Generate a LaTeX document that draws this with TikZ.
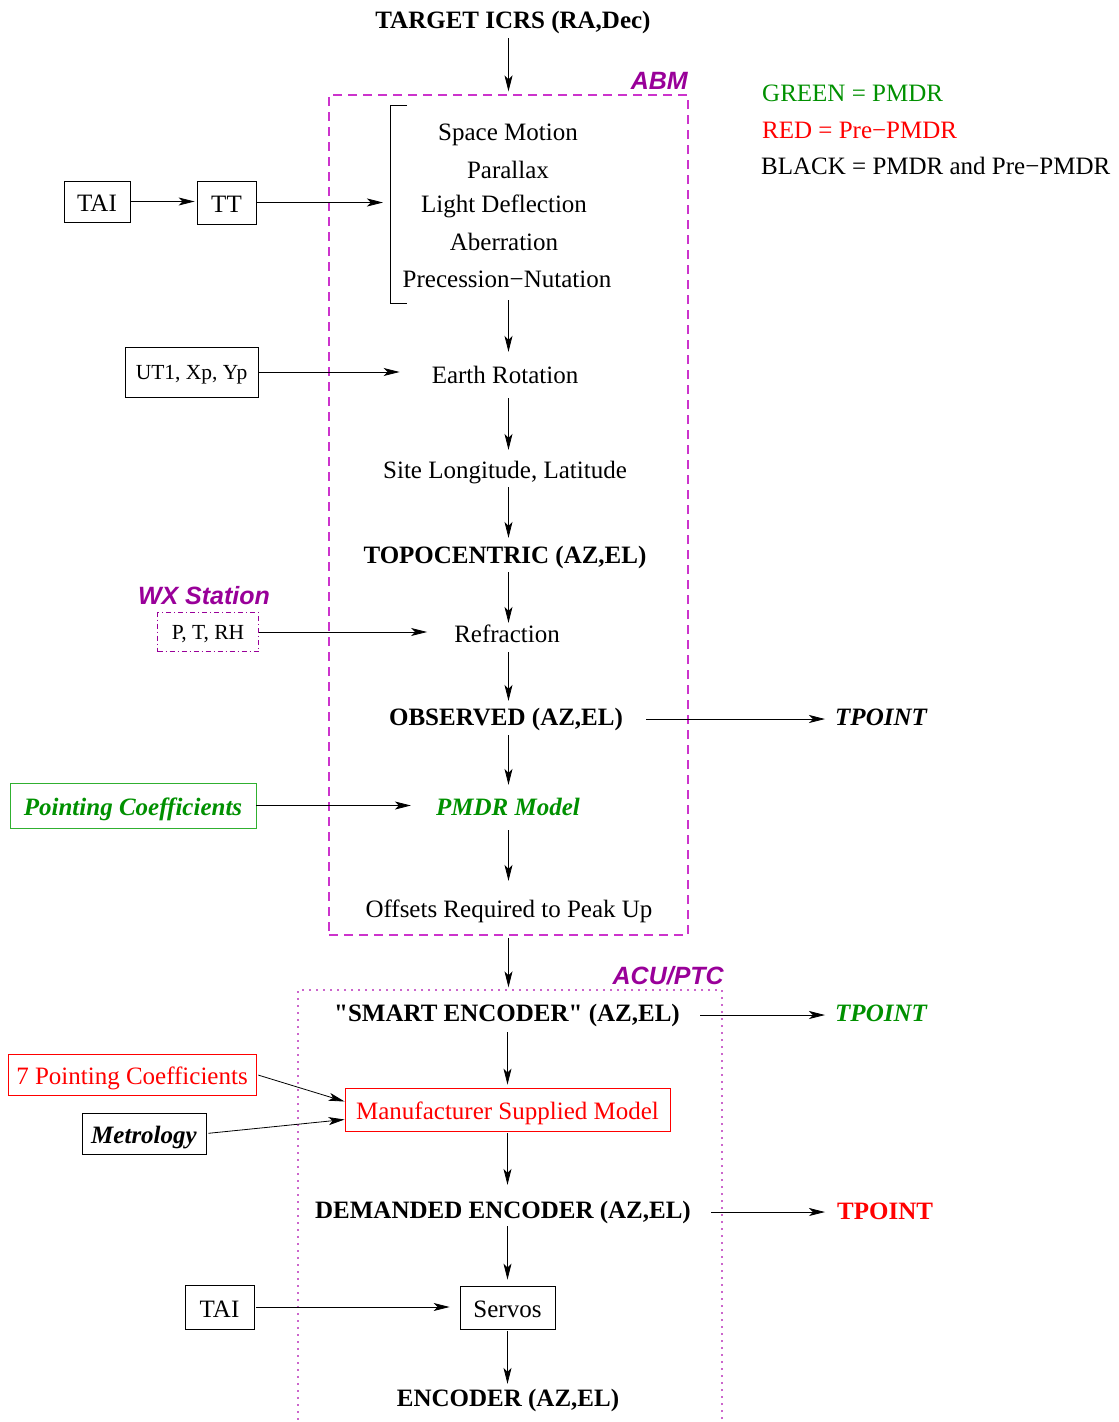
\documentclass[tikz,border=0pt]{standalone}
\usepackage{fontspec}
\setmainfont{Liberation Serif}
\newfontfamily\hvfont{Liberation Sans}
\newfontfamily\rawserif{Liberation Serif}
\usetikzlibrary{arrows.meta}
\definecolor{pgreen}{HTML}{009000}
\definecolor{pgreenbox}{HTML}{30B030}
\definecolor{pred}{HTML}{FF0000}
\definecolor{plabel}{HTML}{990099}
\definecolor{pbox}{HTML}{CC33CC}
\definecolor{pdot}{HTML}{CC66CC}
\begin{document}
\begin{tikzpicture}[x=1pt,y=-1pt,
  every node/.style={font=\fontsize{25}{30}\selectfont, inner sep=0pt},
  txt/.style={anchor=base, text height=18pt, text depth=6pt},
  bld/.style={txt, font=\fontsize{25}{30}\selectfont\bfseries},
  bit/.style={txt, font=\fontsize{25}{30}\selectfont\bfseries\itshape},
  sml/.style={font=\fontsize{21.5}{26}\selectfont},
  box/.style={draw, line width=0.8pt, text height=21.5pt, text depth=1pt},
  lbl/.style={font=\fontsize{25}{30}\selectfont\hvfont\bfseries\itshape, text=plabel},
  arr/.style={-{Stealth[length=16pt,width=8pt,inset=4pt]}, line width=0.8pt},
  legend/.style={anchor=base west},
]
\useasboundingbox (0,0) rectangle (1119,1422);

% containers
\node[draw=pbox, dash pattern=on 9pt off 6pt, line width=1.1pt,
      minimum width=359pt, minimum height=840pt] (abm) at (508.5,515) {};
\node[lbl, anchor=base east] (abml) at (688,89) {ABM};
\node[draw=pdot, dash pattern=on 1.6pt off 5.4pt, line width=1.2pt,
      minimum width=424pt, minimum height=460pt] (acu) at (510,1220) {};
\node[lbl, anchor=base east] (acul) at (724,984) {ACU/PTC};

% legend
\node[legend, text=pgreen] (lg) at (762,101) {GREEN = PMDR};
\node[legend, text=pred] (lr) at (762,138) {RED = Pre−PMDR};
\node[legend] (lb) at (761,174) {BLACK = PMDR and Pre−PMDR};

% main column
\node[bld] (target) at (513,28) {TARGET ICRS (RA,Dec)};
\node[txt] (sm) at (508,140) {Space Motion};
\node[txt] (par) at (508,178) {Parallax};
\node[txt] (ld) at (504,212) {Light Deflection};
\node[txt] (ab) at (504,250) {Aberration};
\node[txt] (pn) at (507,287) {Precession−Nutation};
\draw[line width=0.8pt] (407,105) -- (390,105) -- (390,303) -- (407,303);
\coordinate (brk) at (383,202);
\node[txt] (er) at (505,383) {Earth Rotation};
\node[txt] (site) at (505,478) {Site Longitude, Latitude};
\node[bld] (topo) at (505,563) {TOPOCENTRIC (AZ,EL)};
\node[txt] (refr) at (507,642) {Refraction};
\node[bld] (obs) at (506,725) {OBSERVED (AZ,EL)};
\node[bit, text=pgreen] (pmdr) at (508,815) {PMDR Model};
\node[txt] (off) at (509,917) {Offsets Required to Peak Up};
\node[bld] (smart) at (507,1021) {{\rawserif\bfseries "}SMART ENCODER{\rawserif\bfseries "} (AZ,EL)};
\node[box, draw=pred, text=pred, minimum width=325pt, minimum height=43pt] (msm) at (507.5,1109.5) {Manufacturer Supplied Model};
\node[bld] (dem) at (503,1218) {DEMANDED ENCODER (AZ,EL)};
\node[box, minimum width=95pt, minimum height=43pt] (servos) at (507.5,1307.5) {Servos};
\node[bld] (enc) at (508,1406) {ENCODER (AZ,EL)};

% TPOINT outputs
\node[bit, anchor=base west] (tp1) at (835,725) {TPOINT};
\node[bit, anchor=base west, text=pgreen] (tp2) at (835,1021) {TPOINT};
\node[bld, anchor=base west, text=pred] (tp3) at (837,1219) {TPOINT};

% side inputs
\node[box, minimum width=66pt, minimum height=41pt] (tai1) at (97,201.5) {TAI};
\node[box, minimum width=59pt, minimum height=43pt] (tt) at (226.5,202.5) {TT};
\node[box, sml, text height=15pt, text depth=1pt, minimum width=133pt, minimum height=50pt] (ut1) at (191.5,372) {UT1, Xp, Yp};
\node[lbl, anchor=base] (wx) at (204,604) {WX Station};
\node[draw=plabel, dash pattern=on 5pt off 3pt on 1pt off 3pt, line width=1pt, sml,
      text height=15pt, text depth=1pt,
      minimum width=101pt, minimum height=39pt] (ptrh) at (208,632) {P, T, RH};
\node[box, draw=pgreenbox, text=pgreen, font=\fontsize{25}{30}\selectfont\bfseries\itshape,
      minimum width=246pt, minimum height=45pt] (pc) at (133,805.5) {Pointing Coefficients};
\node[box, draw=pred, text=pred, minimum width=248pt, minimum height=41pt] (pc7) at (132,1074.5) {7 Pointing Coefficients};
\node[box, font=\fontsize{25}{30}\selectfont\bfseries\itshape, minimum width=124pt, minimum height=41pt] (metr) at (144,1133.5) {Metrology};
\node[box, minimum width=69pt, minimum height=44pt] (tai2) at (219.5,1307) {TAI};

% vertical connectors
\draw[arr, shorten <=4pt, shorten >=3pt] (target.south -| abm.north) -- (abm.north);
\draw[arr, shorten <=7pt, shorten >=13pt] (pn.south -| abm.center) -- (er.north -| abm.center);
\draw[arr, shorten <=9pt, shorten >=10pt] (er.south -| abm.center) -- (site.north -| abm.center);
\draw[arr, shorten <=3pt, shorten >=7pt] (site.south -| abm.center) -- (topo.north -| abm.center);
\draw[arr, shorten <=3pt, shorten >=1pt] (topo.south -| abm.center) -- (refr.north -| abm.center);
\draw[arr, shorten <=4pt, shorten >=6pt] (refr.south -| abm.center) -- (obs.north -| abm.center);
\draw[arr, shorten <=4pt, shorten >=12pt] (obs.south -| abm.center) -- (pmdr.north -| abm.center);
\draw[arr, shorten <=9pt, shorten >=18pt] (pmdr.south -| abm.center) -- (off.north -| abm.center);
\draw[arr, shorten <=2pt, shorten >=2pt] (abm.south) -- (abm.south |- acu.north);
\draw[arr, shorten <=5pt, shorten >=3pt] (smart.south -| msm.north) -- (msm.north);
\draw[arr, shorten <=2pt, shorten >=15pt] (msm.south) -- (msm.south |- dem.north);
\draw[arr, shorten <=2pt, shorten >=6pt] (dem.south -| servos.north) -- (servos.north);
\draw[arr, shorten <=2pt, shorten >=4pt] (servos.south) -- (servos.south |- enc.north);

% horizontal connectors
\draw[arr, shorten >=2pt] (tai1.east) -- (tai1.east -| tt.west);
\draw[arr] (tt.east) -- (tt.east -| brk);
\draw[arr, shorten >=32pt] (ut1.east) -- (ut1.east -| er.west);
\draw[arr, shorten >=27pt] (ptrh.east) -- (ptrh.east -| refr.west);
\draw[arr, shorten <=23pt, shorten >=10pt] (obs.east) -- (obs.east -| tp1.west);
\draw[arr, shorten >=25pt] (pc.east) -- (pc.east -| pmdr.west);
\draw[arr, shorten <=20pt, shorten >=10pt] (smart.east) -- (smart.east -| tp2.west);
\draw[arr, shorten <=2pt] (pc7.east) -- ([yshift=8pt]msm.west);
\draw[arr, shorten <=2pt] (metr.east) -- ([yshift=-10pt]msm.west);
\draw[arr, shorten <=20pt, shorten >=12pt] (dem.east) -- (dem.east -| tp3.west);
\draw[arr, shorten <=2pt, shorten >=10pt] (tai2.east) -- (tai2.east -| servos.west);
\end{tikzpicture}
\end{document}
